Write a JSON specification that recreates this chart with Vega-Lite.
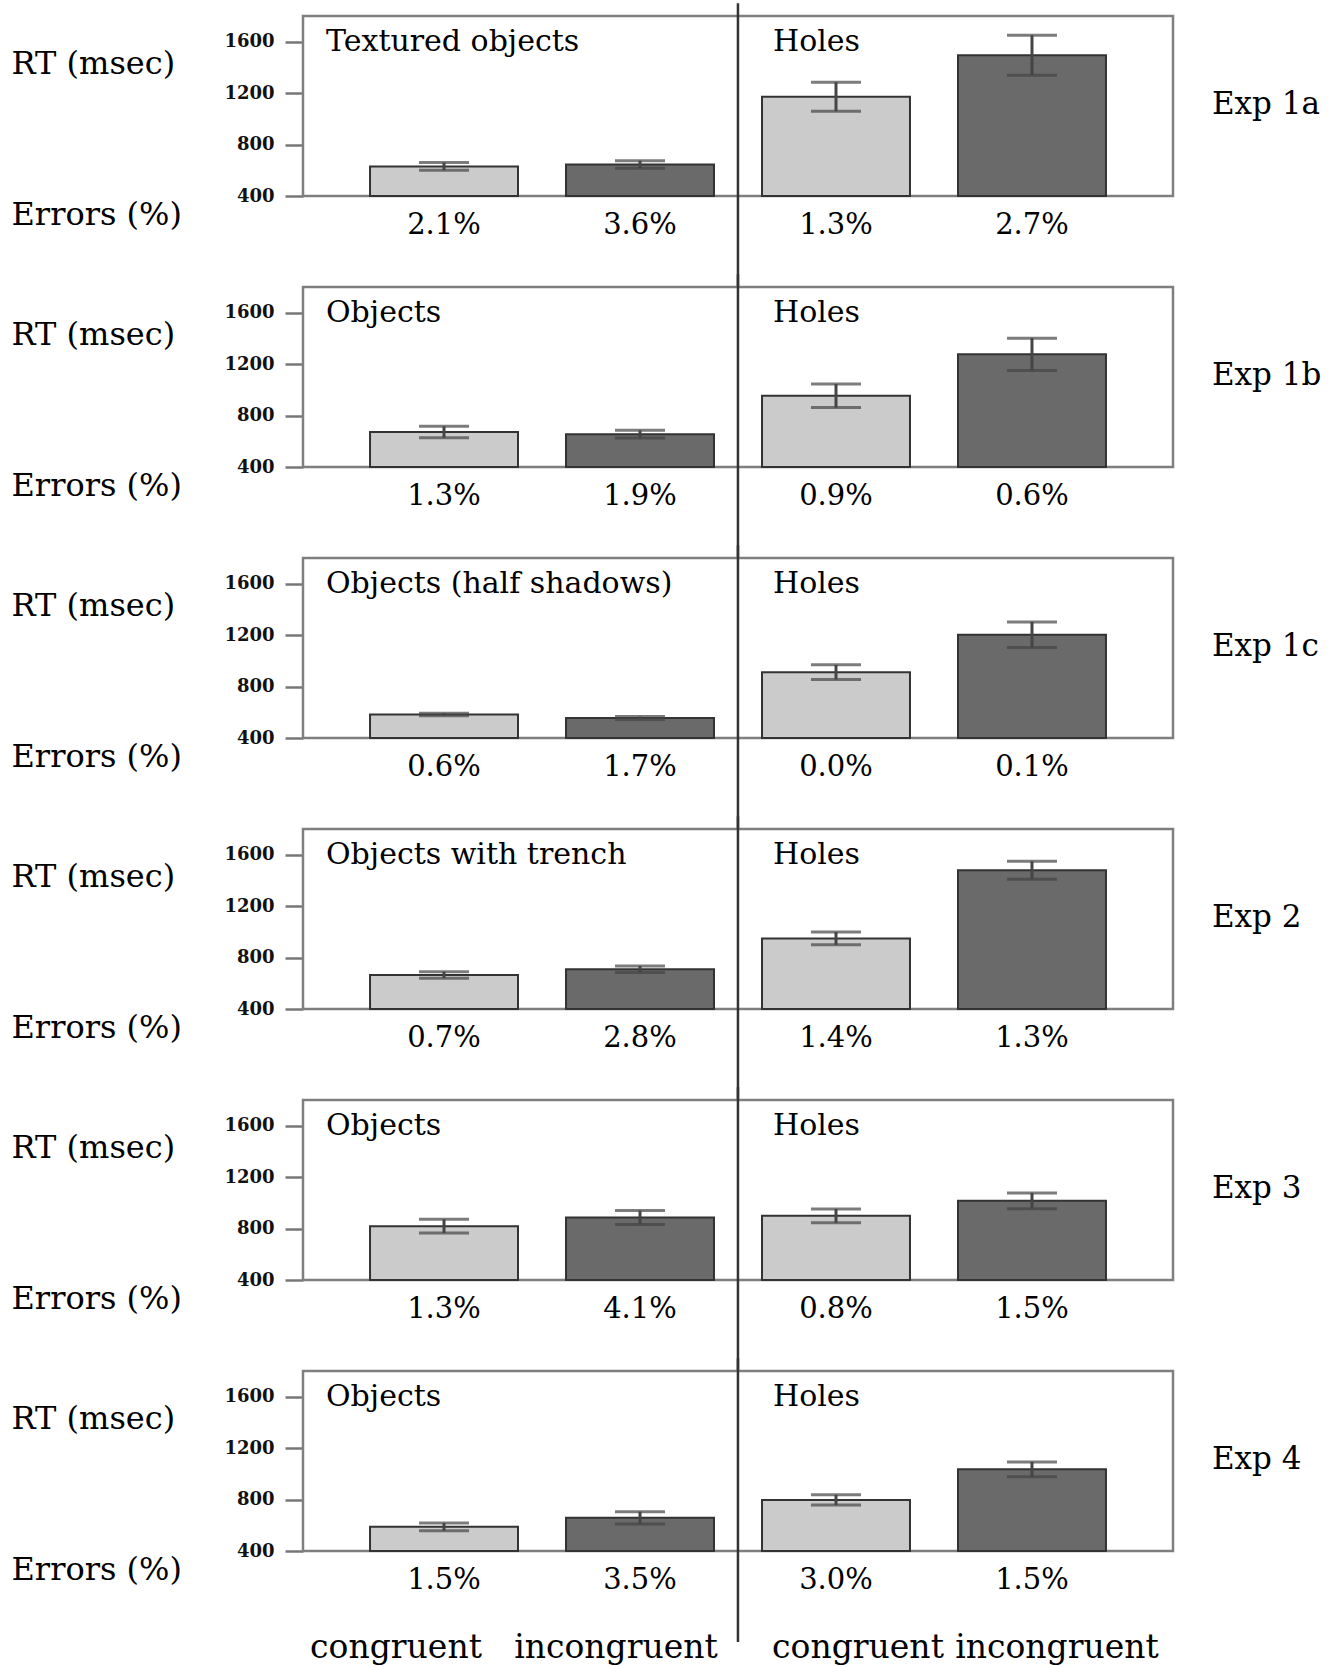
{
  "$schema": "https://vega.github.io/schema/vega-lite/v6.json",
  "background": "white",
  "padding": {"left": 11, "top": 0, "right": 10, "bottom": 8},
  "data": {"values": [
    {"exp": "Exp 1a", "cond": "o-congruent", "type": "congruent", "rt": 630, "se": 30, "pct": "2.1%", "title": "Textured objects"},
    {"exp": "Exp 1a", "cond": "o-incongruent", "type": "incongruent", "rt": 645, "se": 30, "pct": "3.6%", "title": "Textured objects"},
    {"exp": "Exp 1a", "cond": "h-congruent", "type": "congruent", "rt": 1172, "se": 113, "pct": "1.3%", "title": "Holes"},
    {"exp": "Exp 1a", "cond": "h-incongruent", "type": "incongruent", "rt": 1495, "se": 155, "pct": "2.7%", "title": "Holes"},
    {"exp": "Exp 1b", "cond": "o-congruent", "type": "congruent", "rt": 672, "se": 44, "pct": "1.3%", "title": "Objects"},
    {"exp": "Exp 1b", "cond": "o-incongruent", "type": "incongruent", "rt": 655, "se": 30, "pct": "1.9%", "title": "Objects"},
    {"exp": "Exp 1b", "cond": "h-congruent", "type": "congruent", "rt": 954, "se": 92, "pct": "0.9%", "title": "Holes"},
    {"exp": "Exp 1b", "cond": "h-incongruent", "type": "incongruent", "rt": 1276, "se": 126, "pct": "0.6%", "title": "Holes"},
    {"exp": "Exp 1c", "cond": "o-congruent", "type": "congruent", "rt": 583, "se": 10, "pct": "0.6%", "title": "Objects (half shadows)"},
    {"exp": "Exp 1c", "cond": "o-incongruent", "type": "incongruent", "rt": 555, "se": 12, "pct": "1.7%", "title": "Objects (half shadows)"},
    {"exp": "Exp 1c", "cond": "h-congruent", "type": "congruent", "rt": 912, "se": 57, "pct": "0.0%", "title": "Holes"},
    {"exp": "Exp 1c", "cond": "h-incongruent", "type": "incongruent", "rt": 1203, "se": 100, "pct": "0.1%", "title": "Holes"},
    {"exp": "Exp 2", "cond": "o-congruent", "type": "congruent", "rt": 665, "se": 25, "pct": "0.7%", "title": "Objects with trench"},
    {"exp": "Exp 2", "cond": "o-incongruent", "type": "incongruent", "rt": 709, "se": 25, "pct": "2.8%", "title": "Objects with trench"},
    {"exp": "Exp 2", "cond": "h-congruent", "type": "congruent", "rt": 949, "se": 50, "pct": "1.4%", "title": "Holes"},
    {"exp": "Exp 2", "cond": "h-incongruent", "type": "incongruent", "rt": 1479, "se": 70, "pct": "1.3%", "title": "Holes"},
    {"exp": "Exp 3", "cond": "o-congruent", "type": "congruent", "rt": 819, "se": 53, "pct": "1.3%", "title": "Objects"},
    {"exp": "Exp 3", "cond": "o-incongruent", "type": "incongruent", "rt": 886, "se": 54, "pct": "4.1%", "title": "Objects"},
    {"exp": "Exp 3", "cond": "h-congruent", "type": "congruent", "rt": 899, "se": 54, "pct": "0.8%", "title": "Holes"},
    {"exp": "Exp 3", "cond": "h-incongruent", "type": "incongruent", "rt": 1016, "se": 61, "pct": "1.5%", "title": "Holes"},
    {"exp": "Exp 4", "cond": "o-congruent", "type": "congruent", "rt": 588, "se": 30, "pct": "1.5%", "title": "Objects"},
    {"exp": "Exp 4", "cond": "o-incongruent", "type": "incongruent", "rt": 658, "se": 48, "pct": "3.5%", "title": "Objects"},
    {"exp": "Exp 4", "cond": "h-congruent", "type": "congruent", "rt": 797, "se": 40, "pct": "3.0%", "title": "Holes"},
    {"exp": "Exp 4", "cond": "h-incongruent", "type": "incongruent", "rt": 1035, "se": 58, "pct": "1.5%", "title": "Holes"}
  ]},
  "facet": {
    "row": {
      "field": "exp", "type": "nominal",
      "sort": ["Exp 1a", "Exp 1b", "Exp 1c", "Exp 2", "Exp 3", "Exp 4"],
      "header": {"title": null, "labels": false}
    }
  },
  "spacing": 91,
  "bounds": "flush",
  "spec": {
    "width": 870,
    "height": 180,
    "encoding": {
      "x": {
        "field": "cond", "type": "nominal",
        "scale": {"domain": ["o-congruent", "o-incongruent", "h-congruent", "h-incongruent"], "paddingInner": 0.245, "paddingOuter": 0.342},
        "axis": {
          "title": null, "labelExpr": "slice(datum.value, 2)", "ticks": false, "domain": false,
          "labelAngle": 0, "labelPadding": 80, "labelLimit": 400, "labelFont": "DejaVu Serif", "labelFontSize": 33,
          "labelColor": "black",
          "labelOffset": {
            "condition": [
              {"test": "datum.value == 'o-congruent'", "value": -48},
              {"test": "datum.value == 'o-incongruent'", "value": -24},
              {"test": "datum.value == 'h-congruent'", "value": 22}
            ],
            "value": 25
          }
        }
      },
      "y": {
        "field": "rt", "type": "quantitative",
        "title": ["RT (msec)", "Errors (%)"],
        "scale": {"domain": [400, 1800], "nice": false, "zero": false},
        "axis": {"values": [400, 800, 1200, 1600], "format": "d"}
      }
    },
    "layer": [
      {
        "mark": {"type": "bar", "stroke": "#333333", "strokeWidth": 2},
        "encoding": {
          "y2": {"datum": 400},
          "color": {"field": "type", "type": "nominal", "scale": {"domain": ["congruent", "incongruent"], "range": ["#cbcbcb", "#6a6a6a"]}, "legend": null}
        }
      },
      {
        "mark": {"type": "errorbar", "ticks": {"size": 50, "color": "#454545"}, "thickness": 3, "color": "#454545"},
        "encoding": {"yError": {"field": "se"}}
      },
      {
        "mark": {"type": "text", "baseline": "middle", "dy": 29, "font": "DejaVu Serif", "fontSize": 29, "color": "black"},
        "encoding": {"y": {"datum": 400, "title": ["RT (msec)", "Errors (%)"]}, "text": {"field": "pct"}}
      },
      {
        "transform": [{"filter": "datum.cond == 'o-congruent'"}],
        "mark": {"type": "text", "align": "left", "baseline": "middle", "dx": -44, "font": "DejaVu Serif", "fontSize": 30, "color": "black"},
        "encoding": {
          "x": {"field": "cond", "type": "nominal", "bandPosition": 0},
          "y": {"datum": 1600, "title": ["RT (msec)", "Errors (%)"]},
          "text": {"field": "title"}
        }
      },
      {
        "transform": [{"filter": "datum.cond == 'h-congruent'"}],
        "mark": {"type": "text", "align": "left", "baseline": "middle", "dx": 11, "font": "DejaVu Serif", "fontSize": 30, "color": "black"},
        "encoding": {
          "x": {"field": "cond", "type": "nominal", "bandPosition": 0},
          "y": {"datum": 1600, "title": ["RT (msec)", "Errors (%)"]},
          "text": {"field": "title"}
        }
      },
      {
        "transform": [{"filter": "datum.cond == 'h-incongruent'"}],
        "mark": {"type": "text", "align": "left", "baseline": "middle", "font": "DejaVu Serif", "fontSize": 31, "color": "black"},
        "encoding": {
          "x": {"field": "cond", "type": "nominal", "bandPosition": 1.716},
          "y": {"datum": 1110, "title": ["RT (msec)", "Errors (%)"]},
          "text": {"field": "exp"}
        }
      },
      {
        "transform": [{"filter": "datum.cond == 'o-congruent'"}],
        "mark": {"type": "rule", "color": "#333333", "strokeWidth": 2.5},
        "encoding": {
          "x": {"datum": "o-incongruent", "bandPosition": 1.162},
          "y": {"datum": 1900, "title": ["RT (msec)", "Errors (%)"]},
          "y2": {"datum": -308}
        }
      }
    ]
  },
  "config": {
    "view": {"stroke": "#7f7f7f", "strokeWidth": 2.5},
    "axisY": {
      "grid": false, "domain": false, "tickSize": 18, "tickWidth": 2.5, "tickColor": "#777777",
      "labelPadding": 11, "labelFont": "DejaVu Serif", "labelFontWeight": "bold", "labelFontSize": 18,
      "labelColor": "#111111",
      "titleAngle": 0, "titleAlign": "left", "titleBaseline": "middle", "titleX": -292, "titleY": 47,
      "titleLineHeight": 151, "titleFont": "DejaVu Serif", "titleFontSize": 32,
      "titleFontWeight": "normal", "titleColor": "black"
    }
  }
}
